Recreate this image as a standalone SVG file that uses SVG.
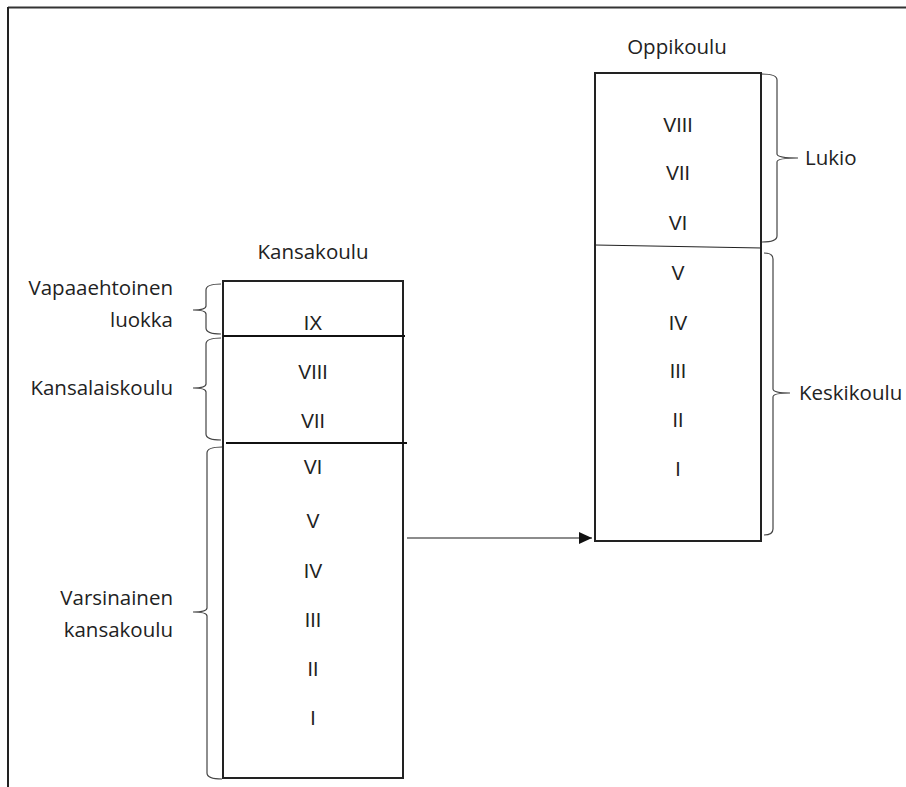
<svg xmlns="http://www.w3.org/2000/svg" width="906" height="787" viewBox="0 0 906 787">
<style>
.lbl{font-family:"Open Sans","Noto Sans",sans-serif;font-size:20.5px;fill:#222}
.num{font-family:"Liberation Sans",Arial,sans-serif;font-size:19.5px;fill:#222;text-anchor:middle}
.box{fill:none;stroke:#222;stroke-width:2}
.brace{fill:none;stroke:#444;stroke-width:1.2}
</style>
<defs>
<marker id="ah" markerWidth="13" markerHeight="12" refX="13" refY="6" orient="auto" markerUnits="userSpaceOnUse">
<path d="M0,0 L13,6 L0,12 Z" fill="#111"/>
</marker>
</defs>
<rect width="906" height="787" fill="#fff"/>
<g id="frame">
<line x1="8" y1="7.5" x2="906" y2="7.5" stroke="#333" stroke-width="2"/>
<line x1="8" y1="7" x2="8" y2="787" stroke="#222" stroke-width="2"/>
</g>
<g id="kansakoulu">
<text class="lbl" x="313" y="259" text-anchor="middle">Kansakoulu</text>
<rect class="box" x="223" y="281" width="180" height="497"/>
<line x1="223" y1="336" x2="405" y2="336" stroke="#111" stroke-width="2"/>
<line x1="226" y1="443" x2="407" y2="443" stroke="#111" stroke-width="2"/>
<text class="num" x="313" y="330">IX</text>
<text class="num" x="313" y="379">VIII</text>
<text class="num" x="313" y="428">VII</text>
<text class="num" x="313" y="474">VI</text>
<text class="num" x="313" y="528">V</text>
<text class="num" x="313" y="578">IV</text>
<text class="num" x="313" y="627">III</text>
<text class="num" x="313" y="676">II</text>
<text class="num" x="313" y="725">I</text>
</g>
<g id="oppikoulu">
<text class="lbl" x="677" y="54" text-anchor="middle">Oppikoulu</text>
<rect class="box" x="595" y="73" width="166" height="468"/>
<line x1="595" y1="245" x2="762" y2="248" stroke="#222" stroke-width="1.2"/>
<text class="num" x="678" y="132">VIII</text>
<text class="num" x="678" y="180">VII</text>
<text class="num" x="678" y="230">VI</text>
<text class="num" x="678" y="280">V</text>
<text class="num" x="678" y="330">IV</text>
<text class="num" x="678" y="378">III</text>
<text class="num" x="678" y="427">II</text>
<text class="num" x="678" y="476">I</text>
</g>
<g id="vapaaehtoinen">
<path class="brace" d="M221,284 Q206,284 206,290 L206,306 Q206,310 193,310 Q206,310 206,314 L206,328 Q206,334 221,334"/>
<text class="lbl" x="173" y="295" text-anchor="end">Vapaaehtoinen</text>
<text class="lbl" x="173" y="327" text-anchor="end">luokka</text>
</g>
<g id="kansalaiskoulu">
<path class="brace" d="M221,338 Q206,338 206,344 L206,384 Q206,388 193,388 Q206,388 206,392 L206,434 Q206,440 221,440"/>
<text class="lbl" x="173" y="395" text-anchor="end">Kansalaiskoulu</text>
</g>
<g id="varsinainen">
<path class="brace" d="M222,447 Q207,447 207,453 L207,608 Q207,612 193,612 Q207,612 207,616 L207,773 Q207,779 222,779"/>
<text class="lbl" x="173" y="605" text-anchor="end">Varsinainen</text>
<text class="lbl" x="173" y="637" text-anchor="end">kansakoulu</text>
</g>
<g id="lukio">
<path class="brace" d="M762,74 Q777,74 777,80 L777,154 Q777,158 798,158 Q777,158 777,162 L777,236 Q777,242 762,242"/>
<text class="lbl" x="805" y="165">Lukio</text>
</g>
<g id="keskikoulu">
<path class="brace" d="M764,253 Q773,253 773,259 L773,389 Q773,393 790,393 Q773,393 773,397 L773,529 Q773,535 764,535"/>
<text class="lbl" x="799" y="400">Keskikoulu</text>
</g>
<g id="connectors">
<line x1="407" y1="538" x2="592" y2="538" stroke="#666" stroke-width="1.6" marker-end="url(#ah)"/>
</g>
</svg>
